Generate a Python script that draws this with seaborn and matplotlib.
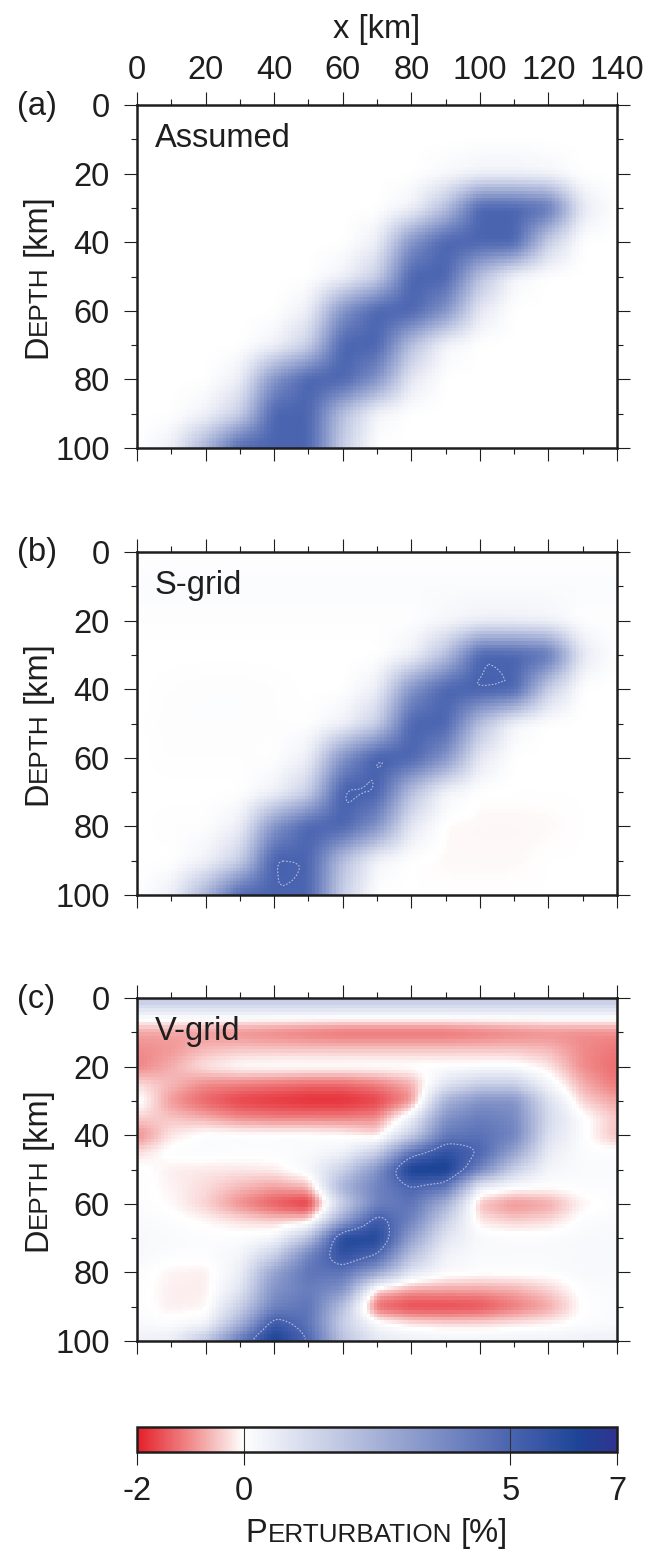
import numpy as np
import pandas as pd
import seaborn as sns
import matplotlib.pyplot as plt
from matplotlib.colors import LinearSegmentedColormap, Normalize
from matplotlib.cm import ScalarMappable
from matplotlib.transforms import IdentityTransform

# ---------------- data ----------------
# model nodes: x every 10 km, depth every 10 km (a, b) or 5 km (c); values in %
x_nodes = [0, 10, 20, 30, 40, 50, 60, 70, 80, 90, 100, 110, 120, 130, 140]
z_nodes_10 = [0, 10, 20, 30, 40, 50, 60, 70, 80, 90, 100]
z_nodes_5 = [0, 5, 10, 15, 20, 25, 30, 35, 40, 45, 50,
             55, 60, 65, 70, 75, 80, 85, 90, 95, 100]

assumed = [
    [0, 0, 0, 0, 0, 0, 0, 0, 0, 0, 0, 0, 0, 0, 0],
    [0, 0, 0, 0, 0, 0, 0, 0, 0, 0, 0, 0, 0, 0, 0],
    [0, 0, 0, 0, 0, 0, 0, 0, 0, 0.2, 0.4, 0.4, 0.3, 0, 0],
    [0, 0, 0, 0, 0, 0, 0, 0, 0.4, 2, 5, 5, 4.5, 0.7, 0],
    [0, 0, 0, 0, 0, 0, 0, 0.5, 3.5, 5, 5, 5, 1.5, 0, 0],
    [0, 0, 0, 0, 0, 0, 0.4, 1.5, 5, 5, 2, 0.3, 0, 0, 0],
    [0, 0, 0, 0, 0, 0.5, 3.5, 5, 5, 3.5, 0.7, 0, 0, 0, 0],
    [0, 0, 0, 0, 0.4, 1.5, 5, 5, 2, 0.3, 0, 0, 0, 0, 0],
    [0, 0, 0, 0.5, 3.5, 5, 5, 3.5, 0.7, 0, 0, 0, 0, 0, 0],
    [0, 0, 0.4, 1.5, 5, 5, 2, 0.3, 0, 0, 0, 0, 0, 0, 0],
    [0, 0.5, 2.5, 5, 5, 5, 1.5, 0, 0, 0, 0, 0, 0, 0, 0],
]

s_grid = [
    [0.05, 0.05, 0.05, 0.05, 0.05, 0.05, 0.05, 0.05, 0.05, 0.05, 0.05, 0.05, 0.05, 0.05, 0.05],
    [0.12, 0.12, 0.12, 0.12, 0.12, 0.12, 0.12, 0.12, 0.12, 0.12, 0.12, 0.12, 0.12, 0.12, 0.12],
    [0.05, 0.05, 0.05, 0.05, 0.05, 0.05, 0.05, 0.05, 0.05, 0.25, 0.45, 0.45, 0.35, 0.05, 0.05],
    [0, 0, 0, 0, 0, 0, 0, 0, 0.4, 2, 5, 5, 4.5, 0.7, 0],
    [0, 0.05, 0.08, 0.08, 0.05, 0, 0, 0.5, 3.5, 5, 5.15, 5, 1.5, 0, 0],
    [0, 0.08, 0.08, 0.08, 0.05, 0.03, 0.4, 1.5, 5, 5, 2, 0.3, 0, 0, 0],
    [0, 0.05, 0.05, 0.05, 0.03, 0.5, 3.5, 5.2, 5, 3.5, 0.7, 0, 0, 0, 0],
    [0, 0, 0, 0, 0.4, 1.5, 5.2, 5.1, 2, 0.3, 0, 0, 0, 0, 0],
    [0, 0.05, 0.05, 0.5, 3.5, 5, 5, 3.5, 0.7, -0.05, -0.07, -0.07, -0.05, 0, 0],
    [0, 0, 0.4, 1.5, 5.15, 5, 2, 0.3, 0, -0.05, -0.05, -0.05, 0, 0, 0],
    [0, 0.5, 2.5, 5, 5, 5, 1.5, 0, 0, 0, 0, 0, 0, 0, 0],
]

v_grid = [
    [2.0, 2.0, 2.0, 2.0, 2.0, 2.0, 2.0, 2.0, 2.0, 2.0, 2.0, 2.0, 2.0, 2.0, 2.0],
    [0.3, 0.3, 0.3, 0.3, 0.3, 0.3, 0.3, 0.3, 0.3, 0.3, 0.3, 0.3, 0.3, 0.3, 0.3],
    [-0.8, -0.8, -0.9, -1.0, -1.1, -1.2, -1.3, -1.3, -1.3, -1.3, -1.2, -1.1, -1.0, -1.0, -1.0],
    [-1.0, -0.9, -0.6, -0.5, -0.5, -0.5, -0.5, -0.5, -0.5, -0.5, -0.5, -0.5, -0.6, -1.0, -1.2],
    [-1.1, -0.7, -0.2, 0.05, 0.1, 0.1, 0.1, 0.1, 0.1, 0.1, 0.1, 0.1, -0.2, -1.0, -1.3],
    [-0.3, -0.6, -1.0, -1.1, -1.2, -1.3, -1.3, -1.1, -0.7, 0.8, 1.5, 1.5, 0.3, -0.7, -1.2],
    [0.2, -0.9, -1.4, -1.7, -1.8, -1.9, -1.9, -1.7, -1.0, 2.5, 3.5, 3.5, 1.0, -0.4, -0.8],
    [-0.4, -0.5, -0.7, -1.0, -1.1, -1.1, -1.1, -1.0, 0.5, 3.5, 4.2, 3.8, 1.2, 0.1, -0.5],
    [-1.1, -0.2, 0.1, 0.1, 0.1, 0.1, 0.0, -0.3, 1.5, 4.3, 4.6, 4.0, 1.0, 0.1, -0.6],
    [-0.3, 0.1, 0.15, 0.1, 0.1, 0.15, 0.4, 1.5, 4.5, 5.8, 5.0, 3.0, 0.6, 0.1, 0.1],
    [0.1, -0.15, -0.2, -0.2, -0.15, 0.3, 1.5, 3.5, 6.6, 6.6, 4.0, 1.5, 0.3, 0.15, 0.15],
    [0.1, -0.1, -0.3, -0.6, -0.8, -0.6, 2.5, 4.0, 5.0, 4.5, 0.5, 0.1, 0.05, 0.1, 0.1],
    [0.1, -0.05, -0.4, -1.0, -1.5, -1.9, 1.5, 4.0, 4.5, 2.5, -0.6, -1.0, -0.8, -0.1, 0.1],
    [0.15, 0.1, -0.05, -0.25, -0.4, -0.3, 3.0, 5.5, 4.0, 1.5, -0.2, -0.4, -0.3, 0.1, 0.15],
    [0.2, 0.15, 0.1, 0.1, 0.3, 2.0, 6.2, 6.2, 3.0, 0.8, 0.2, 0.15, 0.15, 0.2, 0.2],
    [0.2, 0.1, 0.1, 0.3, 1.5, 4.0, 5.8, 5.0, 2.0, 0.4, 0.15, 0.15, 0.15, 0.2, 0.2],
    [0.1, -0.1, -0.15, 0.5, 3.0, 4.5, 4.5, 3.0, 0.8, 0.2, 0.1, 0.1, 0.1, 0.2, 0.2],
    [0.1, -0.15, -0.15, 0.8, 3.5, 4.2, 3.5, -0.4, -0.8, -0.8, -0.8, -0.7, -0.4, 0.1, 0.15],
    [0.1, -0.15, -0.1, 1.5, 4.0, 4.5, 2.0, -1.4, -1.7, -1.7, -1.6, -1.2, -0.8, 0.0, 0.15],
    [0.15, 0.1, 0.3, 2.5, 5.5, 4.5, 1.5, 0.2, -0.2, -0.3, -0.3, -0.2, -0.1, 0.1, 0.15],
    [0.5, 0.6, 2.0, 4.5, 6.6, 5.0, 2.0, 0.8, 0.6, 0.5, 0.5, 0.5, 0.5, 0.5, 0.5],
]

panel_tags = ["(a)", "(b)", "(c)"]
panel_names = ["Assumed", "S-grid", "V-grid"]
x_ticks = [0, 20, 40, 60, 80, 100, 120, 140]
depth_ticks = [0, 20, 40, 60, 80, 100]
cbar_ticks = [-2, 0, 5, 7]
cbar_tick_labels = ["-2", "0", "5", "7"]
cmap_values = [-2, -1, 0, 2.5, 5, 6.3, 7]
cmap_hex = ["#e41f29", "#f08b8b", "#ffffff", "#a6b1d7", "#4a64b0", "#1d4497", "#30338f"]

# ---------------- layout (pixels of the 649 x 1554 image) ----------------
W, H, DPI = 649, 1554, 100
FS = 23.5
SMALL = FS * 0.8
INK = "#1e1e1e"
PX = 72 / DPI  # points per pixel
ax_left, ax_w, ax_h = 137, 480, 343
panel_tops = [105, 552, 998]
cbar_top, cbar_h = 1427, 25

sns.set_style("ticks")
plt.rcParams["font.family"] = ["Liberation Sans", "DejaVu Sans"]
plt.rcParams["font.size"] = FS
plt.rcParams["text.color"] = INK
plt.rcParams["xtick.color"] = INK
plt.rcParams["ytick.color"] = INK


def frac(x, y, w, h):
    return [x / W, 1 - (y + h) / H, w / W, h / H]


def to_cells(nodes, z_nodes):
    """Bilinear resampling of the node values onto 1 km cells."""
    nodes = np.asarray(nodes, float)
    xc = np.arange(140) + 0.5
    zc = np.arange(100) + 0.5
    rows = np.array([np.interp(xc, x_nodes, r) for r in nodes])
    grid = np.array([np.interp(zc, z_nodes, c) for c in rows.T]).T
    return pd.DataFrame(grid, index=zc, columns=xc)


def soften(df, k):
    a = np.pad(df.to_numpy(), k // 2, mode="edge")
    ker = np.ones(k) / k
    a = np.apply_along_axis(lambda v: np.convolve(v, ker, mode="valid"), 0, a)
    a = np.apply_along_axis(lambda v: np.convolve(v, ker, mode="valid"), 1, a)
    return pd.DataFrame(a, index=df.index, columns=df.columns)


pos = [(v - cmap_values[0]) / (cmap_values[-1] - cmap_values[0]) for v in cmap_values]
cmap = LinearSegmentedColormap.from_list("pert", list(zip(pos, cmap_hex)), N=901)
norm = Normalize(vmin=cmap_values[0], vmax=cmap_values[-1])

fields = [
    soften(to_cells(assumed, z_nodes_10), 5),
    soften(to_cells(s_grid, z_nodes_10), 5),
    soften(soften(to_cells(v_grid, z_nodes_5), 3), 3),
]
contour_levels = [None, 5.03, 5.0]

fig = plt.figure(figsize=(W / DPI, H / DPI), dpi=DPI)
renderer = fig.canvas.get_renderer()


def caps_text(x, y, parts, vertical=False):
    """Small-caps style label centred on (x, y) along its baseline (image px)."""
    arts, lengths = [], []
    for s, size, gap in parts:
        t = fig.text(0, 0, s, fontsize=size, transform=IdentityTransform(),
                     rotation=90 if vertical else 0, rotation_mode="anchor",
                     ha="left", va="baseline", color=INK)
        bb = t.get_window_extent(renderer)
        arts.append((t, gap))
        lengths.append(gap + (bb.height if vertical else bb.width))
    p = -sum(lengths) / 2
    for (t, gap), L in zip(arts, lengths):
        if vertical:
            t.set_position((x, H - y + p + gap))
        else:
            t.set_position((x + p + gap, H - y))
        p += L


space = 0.278 * FS / PX

for i, (top, df) in enumerate(zip(panel_tops, fields)):
    ax = fig.add_axes(frac(ax_left, top, ax_w, ax_h))
    sns.heatmap(df, ax=ax, cmap=cmap, vmin=cmap_values[0], vmax=cmap_values[-1],
                cbar=False, xticklabels=False, yticklabels=False, rasterized=True)
    if contour_levels[i] is not None:
        ax.contour(df.columns, df.index, df.to_numpy(), levels=[contour_levels[i]],
                   colors="#b4bcdc", linewidths=0.8, linestyles=[(0, (1.5, 1.5))])
    ax.set_xlim(0, 140)
    ax.set_ylim(100, 0)
    ax.set_xlabel("")
    ax.set_ylabel("")
    for sp in ax.spines.values():
        sp.set_visible(True)
        sp.set_linewidth(1.8)
        sp.set_color(INK)
    ax.set_xticks(x_ticks, labels=[str(v) for v in x_ticks])
    ax.set_yticks(depth_ticks, labels=[str(v) for v in depth_ticks])
    ax.set_xticks(x_nodes, minor=True)
    ax.set_yticks(z_nodes_10, minor=True)
    ax.tick_params(which="both", direction="out", top=True, bottom=True,
                   left=True, right=True, width=0.8)
    ax.tick_params(which="major", length=9.5)
    ax.tick_params(which="minor", length=4.3)
    ax.tick_params(axis="x", labeltop=(i == 0), labelbottom=False, pad=4.3,
                   labelsize=FS)
    ax.tick_params(axis="y", labelleft=True, labelright=False, pad=10,
                   labelsize=FS)
    for lab in ax.get_yticklabels():
        lab.set_rotation(0)

    ax.annotate(panel_names[i], xy=(0, 1), xycoords="axes fraction",
                xytext=(18 * PX, -42 * PX), textcoords="offset points",
                ha="left", va="baseline", fontsize=FS)
    fig.text(17 / W, 1 - (top + 1) / H, panel_tags[i], ha="left", va="center",
             fontsize=FS)
    caps_text(46, top + ax_h / 2,
              [("D", FS, 0), ("EPTH", SMALL, 0), ("[km]", FS, space)],
              vertical=True)

fig.text((ax_left + ax_w / 2) / W, 1 - 38 / H, "x [km]", ha="center",
         va="baseline", fontsize=FS)

# colour scale
cax = fig.add_axes(frac(ax_left, cbar_top, ax_w, cbar_h))
cb = fig.colorbar(ScalarMappable(norm=norm, cmap=cmap), cax=cax,
                  orientation="horizontal", ticks=cbar_ticks)
cb.set_ticklabels(cbar_tick_labels)
cb.outline.set_linewidth(1.8)
cb.outline.set_edgecolor(INK)
cax.tick_params(length=9.5, width=0.8, direction="out", pad=8, labelsize=FS)
for v in cbar_ticks[1:-1]:
    cax.axvline(v, color="#333333", lw=0.8)
caps_text(ax_left + ax_w / 2, 1542,
          [("P", FS, 0), ("ERTURBATION", SMALL, 0), ("[%]", FS, space)])

fig.savefig("out.png", dpi=DPI)
